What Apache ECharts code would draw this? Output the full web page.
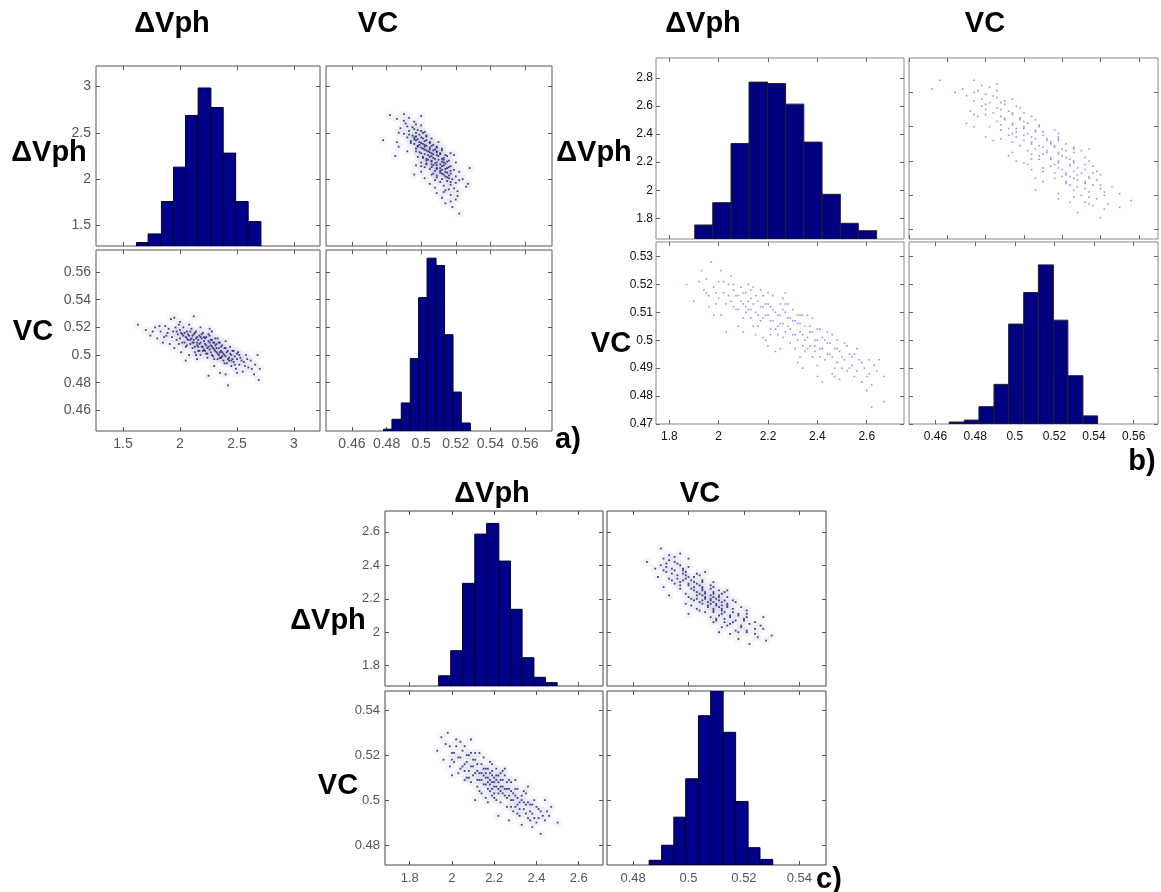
<!DOCTYPE html>
<html>
<head>
<meta charset="utf-8">
<title>plotmatrix a b c</title>
<script src="https://cdn.jsdelivr.net/npm/echarts@6/dist/echarts.min.js"></script>
</head>
<body style="margin:0;background:#fff">
<div id="main" style="width:1161px;height:892px;"></div>
<script>
// ---- values ----
// histogram bin edges and bar tops (in the axis units shown on the panel)
var aDvEdges = [1.618,1.72,1.837,1.943,2.048,2.159,2.271,2.379,2.488,2.598,2.71];
var aDvHist  = [1.317,1.41,1.759,2.13,2.687,2.983,2.773,2.281,1.759,1.543];
var aVcEdges = [0.4783,0.4831,0.4885,0.4937,0.4985,0.5034,0.5086,0.5135,0.5184,0.5232,0.5284];
var aVcHist  = [0.4463,0.4535,0.4653,0.4974,0.5415,0.5701,0.5648,0.5147,0.4732,0.4508];

var bDvEdges = [1.903,1.976,2.05,2.123,2.198,2.271,2.345,2.419,2.493,2.566,2.64];
var bDvHist  = [1.752,1.911,2.333,2.771,2.761,2.614,2.343,1.971,1.764,1.711];
var bVcEdges = [0.4669,0.4745,0.4819,0.4895,0.4969,0.5045,0.5119,0.5195,0.5268,0.5344,0.5418];
var bVcHist  = [0.4707,0.4714,0.4762,0.4842,0.5058,0.5171,0.527,0.5072,0.4873,0.4729];

var cDvEdges = [1.937,1.994,2.05,2.108,2.164,2.222,2.277,2.332,2.388,2.443,2.498];
var cDvHist  = [1.740,1.890,2.292,2.586,2.650,2.425,2.137,1.848,1.731,1.699];
var cVcEdges = [0.4858,0.4903,0.4947,0.4990,0.5036,0.5080,0.5125,0.5170,0.5215,0.5258,0.5304];
var cVcHist  = [0.4732,0.4799,0.4924,0.5095,0.5376,0.549,0.5302,0.4994,0.4788,0.4736];

// scatter samples [dVph, VC]
var aPts = [[1.63,0.522],[1.70,0.518],[1.74,0.514],[1.78,0.520],[1.80,0.512],[1.83,0.517],[1.85,0.509],[1.87,0.521],[1.88,0.514],[1.90,0.519],[1.91,0.508],[1.92,0.526],[1.93,0.513],[1.94,0.517],[1.95,0.505],[1.96,0.520],[1.97,0.511],[1.98,0.515],[1.99,0.508],[2.00,0.518],[2.00,0.512],[2.01,0.502],[2.02,0.515],[2.03,0.520],[2.04,0.509],[2.05,0.513],[2.05,0.506],[2.06,0.517],[2.07,0.511],[2.08,0.500],[2.08,0.514],[2.09,0.508],[2.10,0.519],[2.10,0.512],[2.11,0.505],[2.12,0.515],[2.12,0.509],[2.13,0.502],[2.14,0.512],[2.14,0.517],[2.15,0.507],[2.16,0.511],[2.16,0.503],[2.17,0.514],[2.18,0.509],[2.18,0.500],[2.19,0.512],[2.20,0.506],[2.20,0.516],[2.21,0.510],[2.22,0.503],[2.22,0.508],[2.23,0.513],[2.24,0.505],[2.24,0.498],[2.25,0.510],[2.26,0.504],[2.26,0.514],[2.27,0.507],[2.28,0.500],[2.28,0.511],[2.29,0.505],[2.30,0.509],[2.30,0.497],[2.31,0.503],[2.32,0.508],[2.33,0.501],[2.33,0.512],[2.34,0.505],[2.35,0.498],[2.35,0.509],[2.36,0.503],[2.37,0.507],[2.38,0.496],[2.38,0.501],[2.39,0.505],[2.40,0.499],[2.40,0.510],[2.41,0.494],[2.42,0.503],[2.42,0.478],[2.43,0.498],[2.44,0.506],[2.45,0.492],[2.45,0.500],[2.46,0.503],[2.47,0.495],[2.48,0.499],[2.49,0.490],[2.50,0.497],[2.51,0.502],[2.52,0.493],[2.53,0.498],[2.55,0.488],[2.56,0.495],[2.58,0.500],[2.60,0.491],[2.62,0.496],[2.65,0.486],[2.66,0.493],[2.68,0.500],[2.69,0.482],[2.70,0.490],[1.95,0.527],[2.12,0.528],[2.25,0.485],[2.35,0.487],[2.05,0.496],[2.18,0.520],[2.28,0.517],[2.40,0.486],[2.15,0.497],[2.00,0.524],[2.08,0.522],[2.30,0.492],[2.50,0.487],
  [2.02,0.509],[2.04,0.516],[2.06,0.507],[2.07,0.515],[2.09,0.511],[2.11,0.514],[2.11,0.509],[2.13,0.516],[2.13,0.506],[2.15,0.513],[2.15,0.509],[2.17,0.508],[2.17,0.503],[2.19,0.506],[2.19,0.515],[2.21,0.504],[2.21,0.513],[2.23,0.507],[2.23,0.501],[2.25,0.506],[2.25,0.515],[2.27,0.502],[2.27,0.511],[2.29,0.509],[2.29,0.499],[2.31,0.507],[2.31,0.512],[2.32,0.502],[2.34,0.500],[2.34,0.509],[2.36,0.498],[2.36,0.506],[2.37,0.502],[2.39,0.500],[2.39,0.494],[2.41,0.502],[2.43,0.496],[2.44,0.501],[2.46,0.497],[2.47,0.503],[2.48,0.493],[2.50,0.501],[2.54,0.496],[2.57,0.492],[2.59,0.497],[2.63,0.490],[1.97,0.517],[1.99,0.522],[1.89,0.516],[1.86,0.513],[1.82,0.521],[1.76,0.517],[2.03,0.514],[2.09,0.517],[2.22,0.512],[2.26,0.509],[2.32,0.505],[2.37,0.499],[2.42,0.497],[2.20,0.503],[2.16,0.506],[2.12,0.511],[2.18,0.513],[2.24,0.501],[2.30,0.504],[2.35,0.502],[2.28,0.506],[2.06,0.512],[2.01,0.516],[2.40,0.505],[2.45,0.496],[2.52,0.500],[2.14,0.500],[2.33,0.497],[2.26,0.519]];

var bPts = [[1.87,0.520],[1.90,0.514],[1.93,0.525],[1.94,0.518],[1.95,0.522],[1.96,0.516],[1.97,0.528],[1.98,0.519],[1.99,0.513],[2.00,0.521],[2.01,0.509],[2.02,0.517],[2.03,0.503],[2.04,0.520],[2.05,0.514],[2.06,0.518],[2.07,0.511],[2.08,0.516],[2.09,0.519],[2.10,0.513],[2.10,0.508],[2.11,0.517],[2.12,0.511],[2.13,0.515],[2.14,0.505],[2.14,0.519],[2.15,0.510],[2.16,0.514],[2.17,0.507],[2.18,0.512],[2.18,0.516],[2.19,0.509],[2.20,0.513],[2.20,0.498],[2.21,0.507],[2.22,0.511],[2.22,0.516],[2.23,0.504],[2.24,0.509],[2.25,0.513],[2.25,0.506],[2.26,0.501],[2.27,0.510],[2.27,0.517],[2.28,0.505],[2.29,0.508],[2.30,0.502],[2.30,0.511],[2.31,0.497],[2.32,0.506],[2.33,0.503],[2.33,0.509],[2.34,0.490],[2.35,0.500],[2.35,0.505],[2.36,0.497],[2.37,0.503],[2.38,0.508],[2.38,0.494],[2.39,0.500],[2.40,0.504],[2.40,0.487],[2.41,0.497],[2.42,0.501],[2.43,0.493],[2.44,0.499],[2.45,0.495],[2.46,0.502],[2.47,0.490],[2.48,0.497],[2.49,0.486],[2.50,0.494],[2.51,0.499],[2.52,0.489],[2.53,0.495],[2.54,0.491],[2.55,0.487],[2.57,0.493],[2.58,0.485],[2.59,0.490],[2.60,0.482],[2.61,0.488],[2.62,0.476],[2.63,0.491],[2.65,0.493],[2.67,0.487],[2.67,0.478],[2.05,0.523],[2.12,0.520],[2.17,0.518],[2.08,0.505],[2.15,0.502],[2.23,0.496],[2.28,0.513],[2.32,0.492],[2.36,0.509],[2.44,0.503],[2.46,0.488],[2.52,0.498],[2.01,0.525],[1.98,0.509],[2.19,0.500],[2.26,0.515],[2.42,0.485],[2.56,0.497],[2.11,0.512],[2.21,0.504],[2.31,0.507],[2.39,0.496],[2.13,0.508],[2.24,0.502],[2.34,0.498],
  [1.92,0.521],[1.95,0.517],[1.99,0.517],[2.00,0.515],[2.02,0.521],[2.03,0.513],[2.04,0.516],[2.06,0.512],[2.07,0.516],[2.08,0.511],[2.09,0.514],[2.10,0.517],[2.11,0.510],[2.12,0.514],[2.13,0.511],[2.14,0.513],[2.15,0.516],[2.16,0.509],[2.16,0.505],[2.17,0.512],[2.18,0.508],[2.19,0.513],[2.20,0.509],[2.21,0.512],[2.21,0.502],[2.22,0.507],[2.23,0.510],[2.24,0.505],[2.25,0.509],[2.26,0.506],[2.26,0.511],[2.27,0.503],[2.28,0.508],[2.29,0.504],[2.29,0.499],[2.30,0.507],[2.31,0.502],[2.32,0.509],[2.32,0.500],[2.33,0.506],[2.34,0.502],[2.35,0.496],[2.36,0.501],[2.37,0.505],[2.37,0.498],[2.38,0.503],[2.39,0.498],[2.40,0.500],[2.41,0.494],[2.42,0.497],[2.43,0.500],[2.44,0.495],[2.45,0.499],[2.46,0.494],[2.47,0.497],[2.48,0.492],[2.49,0.496],[2.50,0.490],[2.51,0.493],[2.53,0.490],[2.54,0.494],[2.56,0.489],[2.58,0.492],[2.60,0.487],[2.62,0.484],[2.64,0.489],[2.06,0.520],[2.13,0.518],[2.20,0.517],[2.27,0.513],[2.34,0.509],[2.41,0.504],[2.48,0.500],[2.10,0.503],[2.18,0.501],[2.25,0.497],[2.33,0.494],[2.40,0.491],[2.47,0.487],[1.96,0.512],[2.55,0.495],[2.61,0.493]];

var cPts = [[1.93,0.522],[1.95,0.528],[1.96,0.518],[1.97,0.525],[1.98,0.530],[1.99,0.515],[2.00,0.521],[2.01,0.517],[2.02,0.524],[2.03,0.512],[2.04,0.519],[2.05,0.515],[2.05,0.522],[2.06,0.509],[2.07,0.517],[2.08,0.513],[2.08,0.520],[2.09,0.508],[2.10,0.515],[2.10,0.511],[2.11,0.518],[2.12,0.506],[2.12,0.513],[2.13,0.509],[2.14,0.516],[2.14,0.503],[2.15,0.511],[2.16,0.507],[2.16,0.514],[2.17,0.510],[2.18,0.504],[2.18,0.512],[2.19,0.508],[2.20,0.501],[2.20,0.510],[2.21,0.506],[2.21,0.514],[2.22,0.503],[2.23,0.509],[2.23,0.499],[2.24,0.506],[2.25,0.502],[2.25,0.511],[2.26,0.497],[2.27,0.505],[2.28,0.500],[2.28,0.508],[2.29,0.495],[2.30,0.502],[2.31,0.498],[2.31,0.505],[2.32,0.493],[2.33,0.500],[2.34,0.496],[2.35,0.503],[2.36,0.492],[2.37,0.498],[2.38,0.494],[2.39,0.500],[2.40,0.490],[2.41,0.496],[2.42,0.485],[2.43,0.493],[2.45,0.495],[2.47,0.497],[2.50,0.490],[2.02,0.527],[2.06,0.524],[2.11,0.500],[2.15,0.519],[2.17,0.499],[2.19,0.516],[2.22,0.493],[2.24,0.513],[2.27,0.491],[2.30,0.509],[2.33,0.489],[2.36,0.506],[2.09,0.527],[2.13,0.521],[2.26,0.505],[2.18,0.507],[2.20,0.506],[2.22,0.508],[2.16,0.510],[2.19,0.511],[2.21,0.509],[2.17,0.505],[2.23,0.504],[2.14,0.512],[2.29,0.503],[2.32,0.499],[2.07,0.510],[2.38,0.488],[2.00,0.511],[2.44,0.500],
  [2.01,0.521],[2.03,0.519],[2.04,0.514],[2.06,0.516],[2.07,0.520],[2.08,0.510],[2.09,0.515],[2.10,0.518],[2.11,0.512],[2.12,0.516],[2.13,0.512],[2.14,0.509],[2.15,0.514],[2.15,0.507],[2.16,0.512],[2.17,0.508],[2.17,0.514],[2.18,0.509],[2.19,0.505],[2.19,0.513],[2.20,0.508],[2.20,0.503],[2.21,0.511],[2.22,0.505],[2.22,0.511],[2.23,0.506],[2.24,0.503],[2.24,0.509],[2.25,0.505],[2.26,0.501],[2.26,0.508],[2.27,0.502],[2.28,0.504],[2.29,0.500],[2.30,0.497],[2.30,0.505],[2.31,0.501],[2.32,0.496],[2.33,0.502],[2.34,0.499],[2.35,0.494],[2.36,0.499],[2.37,0.495],[2.38,0.498],[2.39,0.492],[2.40,0.497],[2.41,0.492],[2.42,0.495],[2.44,0.491],[2.46,0.493],[1.99,0.524],[2.04,0.526],[2.00,0.518],[2.06,0.513],[2.11,0.521],[2.13,0.504],[2.18,0.517],[2.21,0.500],[2.25,0.514],[2.28,0.497],[2.34,0.504],[2.37,0.491],[2.16,0.501],[2.12,0.509],[2.23,0.512],[2.27,0.509],[2.31,0.494],[2.35,0.498],[2.19,0.502],[2.09,0.521]];

// tick values
var aDvTicks = [1.5, 2, 2.5, 3];
var aVcTicks = [0.46, 0.48, 0.5, 0.52, 0.54, 0.56];
var bDvTicks = [1.8, 2, 2.2, 2.4, 2.6];
var bDvHistTicks = [1.8, 2, 2.2, 2.4, 2.6, 2.8];
var bVcTicks = [0.47, 0.48, 0.49, 0.5, 0.51, 0.52, 0.53];
var bVcHistTicks = [0.46, 0.48, 0.5, 0.52, 0.54, 0.56];
var cDvTicks = [1.8, 2, 2.2, 2.4, 2.6];
var cVcTicks = [0.48, 0.5, 0.52, 0.54];

// ---- building the option ----
var grids = [], xAxes = [], yAxes = [], series = [];
var FONT = '"Liberation Sans", Arial, sans-serif';

var stA = {border:'#555', tick:'#555', lab:'#555', fs:14, mx:6, my:5, bar:'#000088', edge:'#000030',
           dot:'#14147c', dotSize:1.8, halo:8, haloColor:'rgba(200,200,218,0.2)'};
var stB = {border:'#888', tick:'#666', lab:'#111', fs:12, mx:7, my:3, bar:'#000080', edge:'#222',
           dot:'rgba(70,70,255,0.75)', dotSize:1.6, halo:0};
var stC = {border:'#444', tick:'#555', lab:'#555', fs:13, mx:7, my:5, bar:'#000088', edge:'#000030',
           dot:'#14147c', dotSize:1.8, halo:8, haloColor:'rgba(200,200,218,0.2)'};

function cell(box, xr, yr, xt, yt, showX, showY, st) {
  var g = grids.length;
  grids.push({left:box[0], top:box[1], width:box[2], height:box[3], show:true,
              borderColor:st.border, borderWidth:1, backgroundColor:'#fff'});
  ['bottom', 'top'].forEach(function (pos) {
    xAxes.push({gridIndex:g, type:'value', position:pos, min:xr[0], max:xr[1],
      axisLine:{show:false}, splitLine:{show:false},
      axisTick:{inside:true, length:4, customValues:xt, lineStyle:{color:st.tick}},
      axisLabel:{show:pos === 'bottom' && showX, customValues:xt, fontSize:st.fs,
                 color:st.lab, margin:st.mx, fontFamily:FONT}});
  });
  ['left', 'right'].forEach(function (pos) {
    yAxes.push({gridIndex:g, type:'value', position:pos, min:yr[0], max:yr[1],
      axisLine:{show:false}, splitLine:{show:false},
      axisTick:{inside:true, length:4, customValues:yt, lineStyle:{color:st.tick}},
      axisLabel:{show:pos === 'left' && showY, customValues:yt, fontSize:st.fs,
                 color:st.lab, margin:st.my, fontFamily:FONT}});
  });
  return {x:xAxes.length - 2, y:yAxes.length - 2};
}

function hist(ax, edges, heights, base, st) {
  var d = heights.map(function (h, i) { return [edges[i], edges[i + 1], h]; });
  series.push({type:'custom', xAxisIndex:ax.x, yAxisIndex:ax.y, clip:true, silent:true,
    data:d, encode:{x:[0, 1], y:2},
    renderItem:function (params, api) {
      var p0 = api.coord([api.value(0), base]);
      var p1 = api.coord([api.value(1), api.value(2)]);
      return {type:'rect',
        shape:{x:p0[0], y:p1[1], width:p1[0] - p0[0], height:p0[1] - p1[1]},
        style:{fill:st.bar, stroke:st.edge, lineWidth:1}};
    }});
}

function scat(ax, pts, st) {
  if (st.halo) {
    series.push({type:'scatter', xAxisIndex:ax.x, yAxisIndex:ax.y, data:pts, silent:true,
      symbol:'rect', symbolSize:st.halo, itemStyle:{color:st.haloColor}});
  }
  series.push({type:'scatter', xAxisIndex:ax.x, yAxisIndex:ax.y, data:pts, silent:true,
    symbol:'rect', symbolSize:st.dotSize, itemStyle:{color:st.dot}});
}

function flip(pts) { return pts.map(function (p) { return [p[1], p[0]]; }); }

// panel a
var aDvR = [1.263, 3.228], aDvHR = [1.28, 3.22], aVcR = [0.445, 0.576], aVcXR = [0.445, 0.5756];
hist(cell([96, 66, 224, 180], aDvR, aDvHR, aDvTicks, aDvTicks, false, true, stA), aDvEdges, aDvHist, aDvHR[0], stA);
scat(cell([326, 66, 226, 180], aVcXR, aDvHR, aVcTicks, aDvTicks, false, false, stA), flip(aPts), stA);
scat(cell([96, 250, 224, 181], aDvR, aVcR, aDvTicks, aVcTicks, true, true, stA), aPts, stA);
hist(cell([326, 250, 226, 181], aVcXR, aVcR, aVcTicks, aVcTicks, true, false, stA), aVcEdges, aVcHist, aVcR[0], stA);

// panel b
var bDvR = [1.746, 2.751], bDvHR = [1.652, 2.943], bVcR = [0.47, 0.5352];
hist(cell([656, 58, 248, 181], bDvR, bDvHR, bDvTicks, bDvHistTicks, false, true, stB), bDvEdges, bDvHist, bDvHR[0], stB);
scat(cell([909, 58, 249, 181], [0.47, 0.535], [1.746, 2.80], bVcTicks, bDvTicks, false, false, stB), flip(bPts), stB);
scat(cell([656, 242, 248, 182], bDvR, bVcR, bDvTicks, bVcTicks, true, true, stB), bPts, stB);
hist(cell([909, 242, 249, 182], [0.4466, 0.5723], bVcR, bVcHistTicks, bVcTicks, true, false, stB), bVcEdges, bVcHist, bVcR[0], stB);

// panel c
var cDvR = [1.683, 2.715], cDvHR = [1.679, 2.724], cVcR = [0.4711, 0.5486], cVcXR = [0.4706, 0.5496];
hist(cell([385, 511, 218, 175], cDvR, cDvHR, cDvTicks, cDvTicks, false, true, stC), cDvEdges, cDvHist, cDvHR[0], stC);
scat(cell([607, 511, 219, 175], cVcXR, cDvHR, cVcTicks, cDvTicks, false, false, stC), flip(cPts), stC);
scat(cell([385, 691, 218, 174], cDvR, cVcR, cDvTicks, cVcTicks, true, true, stC), cPts, stC);
hist(cell([607, 691, 219, 174], cVcXR, cVcR, cVcTicks, cVcTicks, true, false, stC), cVcEdges, cVcHist, cVcR[0], stC);

// big labels
function label(t, x, y) {
  return {type:'text', x:x, y:y, silent:true,
    style:{text:t, font:'bold 29px ' + FONT, fill:'#000', align:'center', verticalAlign:'middle'}};
}
var labels = [
  label('ΔVph', 172, 24), label('VC', 378, 24), label('ΔVph', 49, 153), label('VC', 33, 332), label('a)', 568, 440),
  label('ΔVph', 703, 24), label('VC', 985, 24), label('ΔVph', 594, 153), label('VC', 611, 344), label('b)', 1142, 462),
  label('ΔVph', 492, 494), label('VC', 700, 494), label('ΔVph', 328, 621), label('VC', 338, 786), label('c)', 829, 880)
];

var myChart = echarts.init(document.getElementById('main'));
myChart.setOption({
  animation:false,
  backgroundColor:'#fff',
  grid:grids,
  xAxis:xAxes,
  yAxis:yAxes,
  series:series,
  graphic:labels
});
</script>
</body>
</html>
